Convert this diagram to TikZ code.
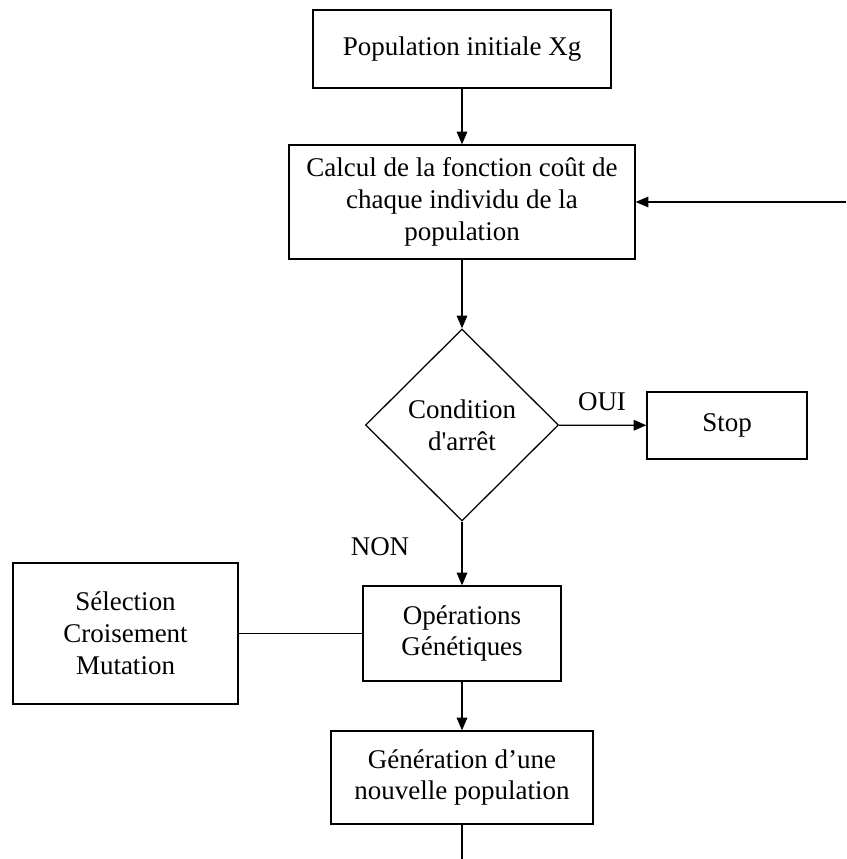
\documentclass[tikz,border=0pt]{standalone}
\usepackage{fontspec}
\setmainfont{Liberation Serif}
\usetikzlibrary{positioning,shapes.geometric,arrows.meta,calc}

\begin{document}
\begin{tikzpicture}[
    box/.style={rectangle,draw,line width=0.9pt,align=center,inner sep=0pt,fill=white,font=\fontsize{19.2}{22.6}\selectfont},
    cond/.style={diamond,draw,line width=0.9pt,align=center,inner sep=0pt,fill=white,font=\fontsize{19.2}{22.6}\selectfont},
    lbl/.style={font=\fontsize{19.2}{22.6}\selectfont},
    arrow/.style={-{Triangle[length=9pt,width=7.5pt]},line width=0.9pt},
    link/.style={line width=0.9pt}
]
    \useasboundingbox (0,0) rectangle (21.15,21.475);

    \node[box,minimum width=7.45cm,minimum height=1.95cm] (pop) at (11.55,20.25) {Population initiale Xg};
    \node[box,minimum width=8.65cm,minimum height=2.85cm] (calc) at (11.55,16.425) {Calcul de la fonction coût de\\chaque individu de la\\population};
    \node[cond,minimum width=4.825cm,minimum height=4.8cm] (arret) at (11.55,10.85) {Condition\\d\textquotesingle arrêt};
    \node[box,minimum width=4cm,minimum height=1.675cm] (stop) at (18.175,10.84) {Stop};
    \node[box,minimum width=4.95cm,minimum height=2.375cm] (ops) at (11.55,5.6375) {Opérations\\Génétiques};
    \node[box,minimum width=5.625cm,minimum height=3.525cm] (sel) at (3.1375,5.6375) {Sélection\\Croisement\\Mutation};
    \node[box,minimum width=6.55cm,minimum height=2.325cm] (gen) at (11.55,2.0375) {Génération d’une\\nouvelle population};

    \node[lbl] (oui) at (15.05,11.425) {OUI};
    \node[lbl] (non) at (9.5,7.8) {NON};

    \coordinate (bas) at (11.55,0);
    \coordinate (retour) at (21.15,16.425);

    \draw[arrow] (pop) -- (calc);
    \draw[arrow] (calc) -- (arret);
    \draw[arrow] (arret) -- (stop);
    \draw[arrow] (arret) -- (ops);
    \draw[link] (sel) -- (ops);
    \draw[arrow] (ops) -- (gen);
    \draw[link] (gen) -- (bas);
    \draw[arrow] (retour) -- (calc.east |- retour);
\end{tikzpicture}
\end{document}
